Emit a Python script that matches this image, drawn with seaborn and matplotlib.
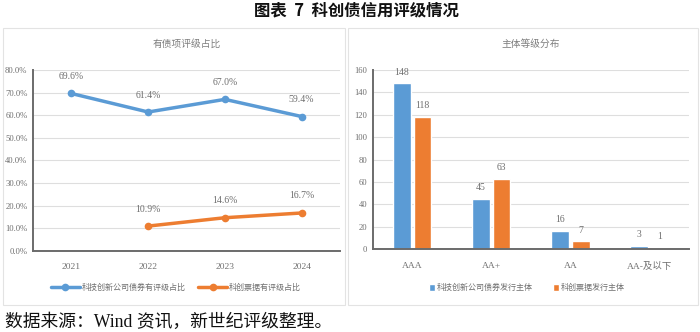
import numpy as np
import pandas as pd
import matplotlib
matplotlib.use("Agg")
import matplotlib.pyplot as plt
from matplotlib.patches import Rectangle
from matplotlib.ticker import FuncFormatter, MultipleLocator
import seaborn as sns

# ---- data ----
years = ["2021", "2022", "2023", "2024"]
bond_rated_share = [69.6, 61.4, 67.0, 59.4]          # 科技创新公司债券有评级占比 (%)
bill_rated_share = [np.nan, 10.9, 14.6, 16.7]        # 科创票据有评级占比 (%)
line_series = ["科技创新公司债券有评级占比", "科创票据有评级占比"]

grades = ["AAA", "AA+", "AA", "AA-及以下"]
bond_issuers = [148, 45, 16, 3]                      # 科技创新公司债券发行主体
bill_issuers = [118, 63, 7, 1]                       # 科创票据发行主体
bar_series = ["科技创新公司债券发行主体", "科创票据发行主体"]

BLUE = "#5B9BD5"
ORANGE = "#ED7D31"
GRID = "#dedede"
AXIS = "#6b6b6b"
TXT = "#6f6f6f"

sns.set_theme(style="white")
FAM = ["Liberation Serif", "Noto Sans CJK SC", "DejaVu Sans"]
CJK = ["Noto Sans CJK SC", "DejaVu Sans"]
plt.rcParams["font.family"] = FAM

fig = plt.figure(figsize=(7.0, 3.32), dpi=100)

# panel frames
for x0, x1 in [(3, 345), (348, 698)]:
    fig.patches.append(Rectangle((x0 / 700, 1 - 305 / 332), (x1 - x0) / 700, (305 - 28) / 332,
                                 transform=fig.transFigure, fill=False,
                                 edgecolor="#e3e3e3", linewidth=0.8))

fig.text(356 / 700, 1 - 10 / 332, "图表  7  科创债信用评级情况", ha="center", va="center",
         fontsize=11.8, fontweight="bold", family=CJK, color="#111111")
fig.text(5 / 700, 1 - 322 / 332, "数据来源：Wind 资讯，新世纪评级整理。", ha="left", va="center",
         fontsize=12.8, family=FAM, color="#111111")

# ---- left: line chart ----
axL = fig.add_axes([33 / 700, 1 - 250.7 / 332, (340 - 33) / 700, (250.7 - 70) / 332])
line_df = pd.DataFrame({
    "year": years * 2,
    "share": bond_rated_share + bill_rated_share,
    "series": [line_series[0]] * 4 + [line_series[1]] * 4,
}).dropna()
sns.lineplot(data=line_df, x="year", y="share", hue="series", hue_order=line_series,
             palette=[BLUE, ORANGE], marker="o", markersize=5.5, markeredgewidth=0,
             linewidth=2.5, sort=False, ax=axL, legend=True)
for vals in (bond_rated_share, bill_rated_share):
    for yr, v in zip(years, vals):
        if np.isnan(v):
            continue
        axL.annotate(f"{v:.1f}%", (yr, v), xytext=(0, 9), textcoords="offset points",
                     ha="center", va="bottom", fontsize=7, color=TXT)
axL.set_xlim(-0.5, 3.5)
axL.set_ylim(0, 80)
axL.yaxis.set_major_locator(MultipleLocator(10))
axL.yaxis.set_major_formatter(FuncFormatter(lambda v, p: f"{v:.1f}%"))
axL.set_title("有债项评级占比", fontsize=7, color="#7f7f7f", pad=17, family=CJK)
handles, labels = axL.get_legend_handles_labels()
axL.legend(handles, labels, loc="center", bbox_to_anchor=(176 / 700, 1 - 287 / 332),
           bbox_transform=fig.transFigure, ncol=2, frameon=False,
           handlelength=3.6, columnspacing=1.6, handletextpad=0.2,
           prop={"family": CJK, "size": 5.8}, labelcolor=TXT)

# ---- right: grouped bars ----
axR = fig.add_axes([372.7 / 700, 1 - 249.3 / 332, (689 - 372.7) / 700, (249.3 - 70) / 332])
bar_df = pd.DataFrame({
    "grade": grades * 2,
    "count": bond_issuers + bill_issuers,
    "series": [bar_series[0]] * 4 + [bar_series[1]] * 4,
})
sns.barplot(data=bar_df, x="grade", y="count", hue="series", hue_order=bar_series, order=grades,
            palette=[BLUE, ORANGE], width=0.52, gap=0.14, saturation=1, ax=axR)
for cont in axR.containers:
    axR.bar_label(cont, fmt="%d", padding=5, fontsize=7, color=TXT)
axR.set_xlim(-0.5, 3.5)
axR.set_ylim(0, 160)
axR.yaxis.set_major_locator(MultipleLocator(20))
axR.set_title("主体等级分布", fontsize=7, color="#7f7f7f", pad=17, family=CJK)
axR.legend(loc="center", bbox_to_anchor=(527 / 700, 1 - 287.5 / 332),
           bbox_transform=fig.transFigure, ncol=2, frameon=False,
           handlelength=0.7, handleheight=1.0, columnspacing=2.6, handletextpad=0.25,
           prop={"family": CJK, "size": 5.8}, labelcolor=TXT)

for ax in (axL, axR):
    ax.set_xlabel("")
    ax.set_ylabel("")
    ax.set_axisbelow(True)
    ax.grid(axis="y", color=GRID, linewidth=0.8)
    ax.grid(axis="x", visible=False)
    for s in ("top", "right"):
        ax.spines[s].set_visible(False)
    for s in ("left", "bottom"):
        ax.spines[s].set_visible(True)
        ax.spines[s].set_color(AXIS)
        ax.spines[s].set_linewidth(1.4)
    ax.tick_params(axis="both", length=0, labelcolor=TXT)
    ax.tick_params(axis="y", pad=4, labelsize=6.2)
    ax.tick_params(axis="x", pad=9, labelsize=6.8)
    for lab in ax.get_xticklabels() + ax.get_yticklabels():
        lab.set_family(FAM)

fig.savefig("out.png", dpi=100)
